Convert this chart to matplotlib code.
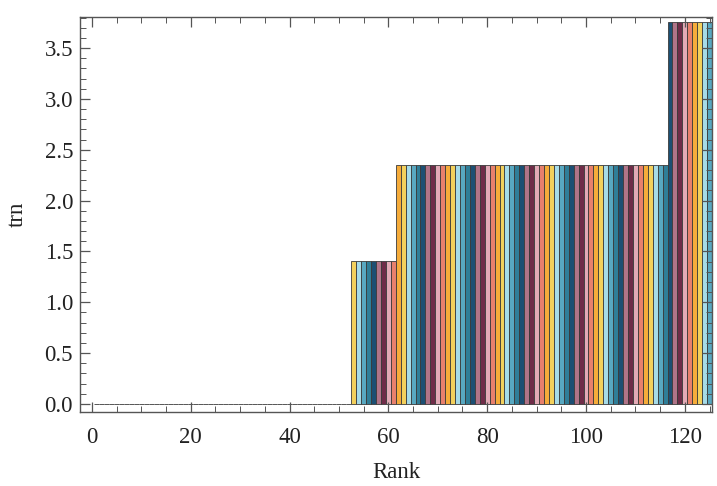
import numpy as np
import matplotlib
matplotlib.use("Agg")
import matplotlib.pyplot as plt
from matplotlib.ticker import MultipleLocator

# datos: rango 1..125 y valor trn por barra
ranks = np.arange(1, 126)
trn = [0.0] * 52 + [1.41] * 9 + [2.35] * 55 + [3.76] * 9

# paleta ciclica de las barras (empieza en el rango 1)
palette = ["#e8806d", "#f6ac3a", "#f3d05c", "#a6dbe8", "#58a8c1",
           "#2f7e98", "#1c4f73", "#b07488", "#6f2c48", "#e3aab6"]

x_ticks = [0, 20, 40, 60, 80, 100, 120]
y_ticks = [0.0, 0.5, 1.0, 1.5, 2.0, 2.5, 3.0, 3.5]

plt.rcParams["font.family"] = ["Liberation Serif", "DejaVu Serif"]

fig = plt.figure(figsize=(7.17, 4.86), dpi=100)
ax = fig.add_axes([0.1116, 0.152, 0.8814, 0.813])

colores = [palette[(r - 1) % len(palette)] for r in ranks]
ax.bar(ranks, trn, width=1.0, color=colores, edgecolor="#3a3a3a",
       linewidth=0.6, align="center")

ax.set_xlim(-2.4, 125.5)
ax.set_ylim(-0.08, 3.805)
ax.set_xticks(x_ticks)
ax.set_yticks(y_ticks)
ax.set_yticklabels(["%.1f" % v for v in y_ticks])
ax.xaxis.set_minor_locator(MultipleLocator(5))
ax.yaxis.set_minor_locator(MultipleLocator(0.1))

ax.tick_params(which="both", direction="in", top=True, right=True,
               color="#555555", labelsize=16.5, labelcolor="#222222")
ax.tick_params(which="major", length=7, width=0.9)
ax.tick_params(which="minor", length=4, width=0.7)
ax.tick_params(axis="x", which="major", pad=11)
ax.tick_params(axis="y", which="major", pad=5)

for s in ax.spines.values():
    s.set_color("#555555")
    s.set_linewidth(1.0)

ax.set_xlabel("Rank", fontsize=16.5, labelpad=10, color="#222222")
ax.set_ylabel("trn", fontsize=16.5, labelpad=12, color="#222222")

fig.savefig("out.png", dpi=100)
